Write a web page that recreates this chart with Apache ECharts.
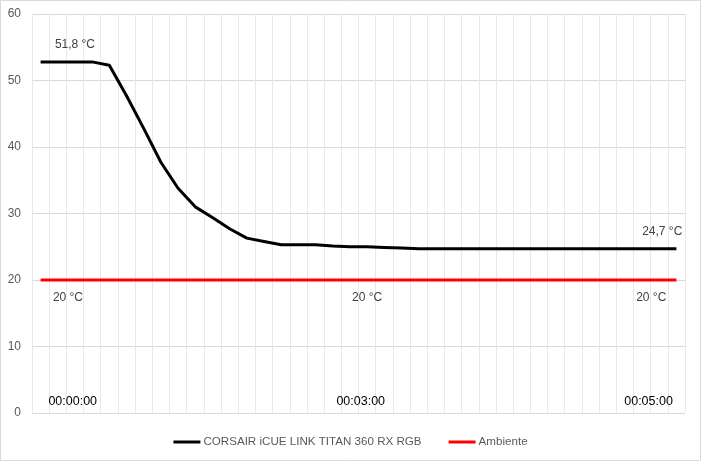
<!DOCTYPE html>
<html>
<head>
<meta charset="utf-8">
<script src="https://cdn.jsdelivr.net/npm/echarts@6/dist/echarts.min.js"></script>
<style>
html,body{margin:0;padding:0;background:#fff;}
#c{width:701px;height:461px;}
</style>
</head>
<body>
<div id="c"></div>
<script>
// ---- data ----
var categories = ['1','2','3','4','5','6','7','8','9','10','11','12','13','14','15','16','17','18','19','20',
                  '21','22','23','24','25','26','27','28','29','30','31','32','33','34','35','36','37','38'];
var corsairValues = [52.8, 52.8, 52.8, 52.8, 52.3, 47.7, 42.8, 37.7, 33.8, 31.0,
                     29.4, 27.7, 26.3, 25.8, 25.3, 25.3, 25.3, 25.1, 25.0, 25.0,
                     24.9, 24.8, 24.7, 24.7, 24.7, 24.7, 24.7, 24.7, 24.7, 24.7,
                     24.7, 24.7, 24.7, 24.7, 24.7, 24.7, 24.7, 24.7];
var ambientValues = [20, 20, 20, 20, 20, 20, 20, 20, 20, 20,
                     20, 20, 20, 20, 20, 20, 20, 20, 20, 20,
                     20, 20, 20, 20, 20, 20, 20, 20, 20, 20,
                     20, 20, 20, 20, 20, 20, 20, 20];
var seriesNames = ['CORSAIR iCUE LINK TITAN 360 RX RGB', 'Ambiente'];
var corsairLabelIdx = [2, 36];
var corsairLabelText = ['51,8 °C', '24,7 °C'];
var ambientLabelIdx = [2, 19, 36];
var ambientLabelText = ['20 °C', '20 °C', '20 °C'];
var timeLabels = ['00:00:00', '00:03:00', '00:05:00'];
var timeLabelAt = [2.37, 19.13, 35.88]; // in category widths from the left edge
var yTicks = [0, 10, 20, 30, 40, 50, 60];

// ---- build ----
var FONT = 'Liberation Sans';
function buildData(values, idx, texts, pos, dist, offsets) {
  return values.map(function (v, i) {
    var k = idx.indexOf(i);
    if (k < 0) return v;
    return {
      value: v,
      label: {
        show: true, position: pos, distance: dist,
        offset: [offsets[k], 0],
        formatter: texts[k],
        color: '#404040', fontSize: 12, fontFamily: FONT
      }
    };
  });
}

var chart = echarts.init(document.getElementById('c'), null, {renderer: 'canvas'});
chart.setOption({
  animation: false,
  backgroundColor: '#ffffff',
  textStyle: {fontFamily: FONT},
  graphic: [{
    type: 'rect', silent: true, z: -10,
    shape: {x: 0.5, y: 0.5, width: 700, height: 460},
    style: {fill: null, stroke: '#d9d9d9', lineWidth: 1}
  }],
  grid: {left: 32, right: 16, top: 14, bottom: 48, containLabel: false},
  legend: {
    data: seriesNames,
    left: 'center', top: 431,
    icon: 'rect', itemWidth: 27, itemHeight: 3, itemGap: 27,
    textStyle: {color: '#595959', fontSize: 11.6, fontFamily: FONT, padding: [0, 0, 0, -2]}
  },
  xAxis: [{
    type: 'category', data: categories, boundaryGap: true,
    axisLine: {show: false}, axisTick: {show: false}, axisLabel: {show: false, interval: 0},
    splitLine: {show: true, interval: 0, lineStyle: {color: '#e8e8e8', width: 1}}
  }, {
    type: 'value', min: 0, max: categories.length, position: 'bottom',
    axisLine: {show: false}, axisTick: {show: false}, splitLine: {show: false},
    axisLabel: {
      show: true, inside: true, margin: 5,
      customValues: timeLabelAt,
      formatter: function (v) {
        var k = timeLabelAt.indexOf(v);
        return k >= 0 ? timeLabels[k] : '';
      },
      color: '#000000', fontSize: 12.5, fontFamily: FONT
    }
  }],
  yAxis: {
    type: 'value', min: yTicks[0], max: yTicks[yTicks.length - 1], interval: 10,
    axisLine: {show: false}, axisTick: {show: false},
    axisLabel: {color: '#595959', fontSize: 12, fontFamily: FONT, margin: 11},
    splitLine: {show: true, lineStyle: {color: '#d9d9d9', width: 1}}
  },
  series: [{
    name: seriesNames[0], type: 'line', xAxisIndex: 0,
    data: buildData(corsairValues, corsairLabelIdx, corsairLabelText, 'top', 11, [0, 3]),
    symbol: 'circle', symbolSize: 0, showSymbol: true, showAllSymbol: true,
    lineStyle: {color: '#000000', width: 3}, itemStyle: {color: '#000000'},
    z: 3
  }, {
    name: seriesNames[1], type: 'line', xAxisIndex: 0,
    data: buildData(ambientValues, ambientLabelIdx, ambientLabelText, 'bottom', 12, [-7, 0, -8]),
    symbol: 'circle', symbolSize: 0, showSymbol: true, showAllSymbol: true,
    lineStyle: {color: '#ff0000', width: 3}, itemStyle: {color: '#ff0000'},
    z: 2
  }]
});
</script>
</body>
</html>
